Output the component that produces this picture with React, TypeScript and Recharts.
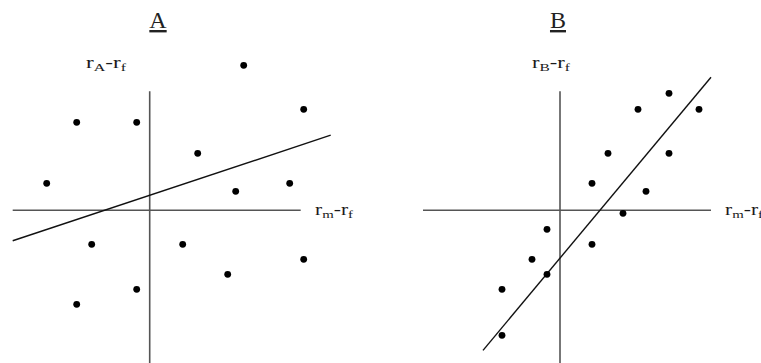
import React from 'react';
import { ScatterChart, Scatter, XAxis, YAxis, ReferenceLine } from 'recharts';

// 점 좌표: 원점(두 축의 교차점) 기준, 1단위 ≈ 10px
const pointsA = [
  { x: 9.4, y: 14.5 }, { x: 15.4, y: 10.1 }, { x: -7.3, y: 8.8 }, { x: -1.3, y: 8.8 },
  { x: 4.8, y: 5.7 }, { x: -10.3, y: 2.7 }, { x: 14.0, y: 2.7 }, { x: 8.6, y: 1.9 },
  { x: -5.8, y: -3.4 }, { x: 3.3, y: -3.4 }, { x: 15.4, y: -4.9 }, { x: 7.8, y: -6.4 },
  { x: -1.3, y: -7.9 }, { x: -7.3, y: -9.4 },
];

const pointsB = [
  { x: 10.9, y: 11.7 }, { x: 7.8, y: 10.1 }, { x: 13.9, y: 10.1 }, { x: 4.8, y: 5.7 },
  { x: 10.9, y: 5.7 }, { x: 3.2, y: 2.7 }, { x: 8.6, y: 1.9 }, { x: 6.3, y: -0.3 },
  { x: -1.3, y: -1.9 }, { x: 3.2, y: -3.4 }, { x: -2.8, y: -4.9 }, { x: -1.3, y: -6.4 },
  { x: -5.8, y: -7.9 }, { x: -5.8, y: -12.5 },
];

// 회귀선: 기울기, 절편, 그려지는 x 구간
const fitA = { slope: 0.332, intercept: 1.5, from: -13.7, to: 18.1 };
const fitB = { slope: 1.198, intercept: -4.78, from: -7.7, to: 15.1 };

// 축 길이 (데이터 단위)
const axisA = { left: -13.7, right: 15.1, top: 11.9, bottom: -15.3 };
const axisB = { left: -13.7, right: 15.1, top: 11.9, bottom: -15.3 };

const xDomainA: [number, number] = [-14.97, 23.03];
const xDomainB: [number, number] = [-18.0, 20.1];
const yDomain: [number, number] = [-15.27, 21.03];

const serif = '"Liberation Serif", "Times New Roman", serif';

type Pt = { x: number; y: number };
type Fit = typeof fitA;
type Axis = typeof axisA;

function Dot(props: any) {
  return <circle cx={props.cx} cy={props.cy} r={3.4} fill="#000" />;
}

function Panel({ left, width, xDomain, points, fit, axis }: {
  left: number; width: number; xDomain: [number, number]; points: Pt[]; fit: Fit; axis: Axis;
}) {
  return (
    <div style={{ position: 'absolute', left, top: 0 }}>
      <ScatterChart width={width} height={363} margin={{ top: 0, right: 0, bottom: 0, left: 0 }}>
        <XAxis type="number" dataKey="x" domain={xDomain} hide allowDataOverflow />
        <YAxis type="number" dataKey="y" domain={yDomain} hide allowDataOverflow />
        <ReferenceLine segment={[{ x: axis.left, y: 0 }, { x: axis.right, y: 0 }]} stroke="#555" strokeWidth={1.6} ifOverflow="visible" />
        <ReferenceLine segment={[{ x: 0, y: axis.top }, { x: 0, y: axis.bottom }]} stroke="#555" strokeWidth={1.6} ifOverflow="visible" />
        <ReferenceLine
          segment={[
            { x: fit.from, y: fit.intercept + fit.slope * fit.from },
            { x: fit.to, y: fit.intercept + fit.slope * fit.to },
          ]}
          stroke="#111" strokeWidth={1.4} ifOverflow="visible"
        />
        <Scatter data={points} shape={Dot} isAnimationActive={false} />
      </ScatterChart>
    </div>
  );
}

function AxisLabel({ x, y, main, sub, width }: { x: number; y: number; main: string; sub: string; width: number }) {
  return (
    <text x={x} y={y} fontFamily={serif} fontSize={16} fill="#1a1a1a" textLength={width} lengthAdjust="spacingAndGlyphs">
      r<tspan fontSize={11} dy={3}>{main}</tspan>
      <tspan fontSize={16} dy={-3}>-r</tspan>
      <tspan fontSize={11} dy={3}>{sub}</tspan>
    </text>
  );
}

export default function App() {
  return (
    <div style={{ position: 'absolute', left: 0, top: 0, width: 761, height: 363, background: '#fff', overflow: 'hidden' }}>
      <Panel left={0} width={380} xDomain={xDomainA} points={pointsA} fit={fitA} axis={axisA} />
      <Panel left={380} width={381} xDomain={xDomainB} points={pointsB} fit={fitB} axis={axisB} />
      <svg width={761} height={363} style={{ position: 'absolute', left: 0, top: 0, pointerEvents: 'none' }}>
        <text x={158} y={28} textAnchor="middle" fontFamily={serif} fontSize={24} fill="#222" textDecoration="underline">A</text>
        <text x={558} y={28} textAnchor="middle" fontFamily={serif} fontSize={24} fill="#222" textDecoration="underline">B</text>
        <AxisLabel x={86} y={68} main="A" sub="f" width={40} />
        <AxisLabel x={315} y={215} main="m" sub="f" width={38} />
        <AxisLabel x={532} y={68} main="B" sub="f" width={38} />
        <AxisLabel x={725} y={215} main="m" sub="f" width={38} />
      </svg>
    </div>
  );
}
